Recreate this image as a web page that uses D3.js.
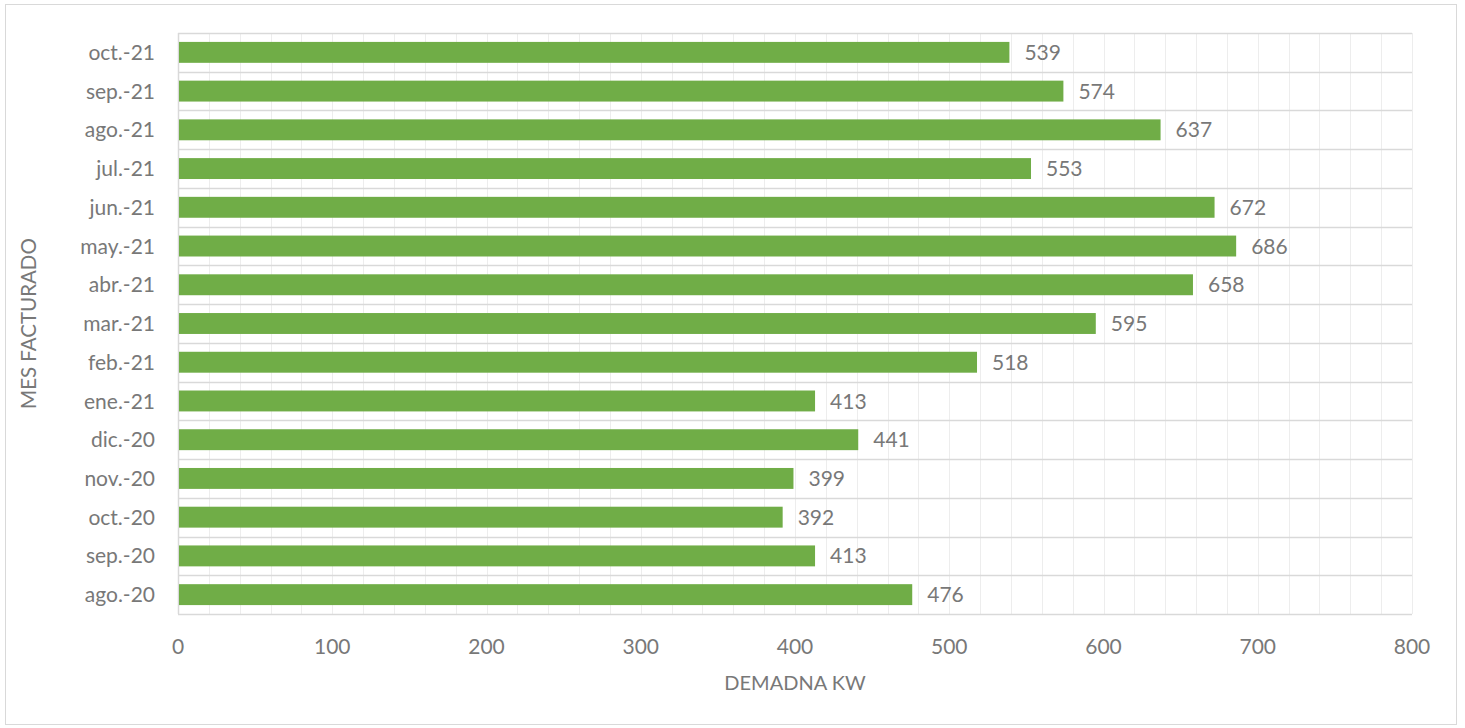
<!DOCTYPE html>
<html>
<head>
<meta charset="utf-8">
<script src="https://cdn.jsdelivr.net/npm/d3@7"></script>
<style>
  body { margin: 0; background: #fff; }
  svg text { font-family: Lato, "Open Sans", sans-serif; fill: #787878; }
</style>
</head>
<body>
<div id="chart"></div>
<script>
// months, bottom to top as in the source chart
const months = ['ago.-20', 'sep.-20', 'oct.-20', 'nov.-20', 'dic.-20', 'ene.-21', 'feb.-21',
                'mar.-21', 'abr.-21', 'may.-21', 'jun.-21', 'jul.-21', 'ago.-21', 'sep.-21', 'oct.-21'];
const demand = [476, 413, 392, 399, 441, 413, 518, 595, 658, 686, 672, 553, 637, 574, 539];
const xTicks = [0, 100, 200, 300, 400, 500, 600, 700, 800];
const xTitle = 'DEMADNA KW';
const yTitle = 'MES FACTURADO';

const width = 1465, height = 728;
const plot = {left: 178, right: 1412, top: 33, bottom: 614};

const svg = d3.select('#chart')
              .append('svg')
              .attr('width', width)
              .attr('height', height);

// chart area border
svg.append('rect')
   .attr('x', 5.5).attr('y', 4.5)
   .attr('width', 1451).attr('height', 720)
   .attr('fill', '#fff')
   .attr('stroke', '#d9d9d9');

const xScale = d3.scaleLinear()
                 .domain([0, 800])
                 .range([plot.left, plot.right]);

const yScale = d3.scaleBand()
                 .domain(months.slice().reverse())
                 .range([plot.top, plot.bottom])
                 .paddingInner(0.46)
                 .paddingOuter(0.23);

// minor vertical gridlines every 20
svg.append('g')
   .selectAll('line')
   .data(d3.range(20, 801, 20))
   .enter()
   .append('line')
   .attr('x1', d => Math.round(xScale(d)) + 0.5)
   .attr('x2', d => Math.round(xScale(d)) + 0.5)
   .attr('y1', plot.top)
   .attr('y2', plot.bottom)
   .attr('stroke', '#ededed');

// horizontal lines between categories
const step = (plot.bottom - plot.top) / months.length;
svg.append('g')
   .selectAll('line')
   .data(d3.range(0, months.length + 1))
   .enter()
   .append('line')
   .attr('x1', plot.left)
   .attr('x2', plot.right)
   .attr('y1', i => Math.round(plot.top + i * step) + 0.5)
   .attr('y2', i => Math.round(plot.top + i * step) + 0.5)
   .attr('stroke', '#d9d9d9')
   .attr('stroke-width', 1.5);

// left axis line
svg.append('line')
   .attr('x1', plot.left + 0.5).attr('x2', plot.left + 0.5)
   .attr('y1', plot.top).attr('y2', plot.bottom)
   .attr('stroke', '#d9d9d9')
   .attr('stroke-width', 1.5);

// bars
svg.append('g')
   .selectAll('rect')
   .data(demand)
   .enter()
   .append('rect')
   .attr('x', xScale(0) + 1)
   .attr('y', (d, i) => yScale(months[i]))
   .attr('width', d => xScale(d) - xScale(0) - 1)
   .attr('height', yScale.bandwidth())
   .attr('fill', '#70ad47');

// value labels
svg.append('g')
   .selectAll('text')
   .data(demand)
   .enter()
   .append('text')
   .attr('x', d => xScale(d) + 15)
   .attr('y', (d, i) => yScale(months[i]) + yScale.bandwidth() / 2)
   .attr('dy', '0.36em')
   .attr('font-size', 21)
   .text(d => d);

// category labels
svg.append('g')
   .selectAll('text')
   .data(months)
   .enter()
   .append('text')
   .attr('x', 155)
   .attr('y', d => yScale(d) + yScale.bandwidth() / 2)
   .attr('dy', '0.36em')
   .attr('text-anchor', 'end')
   .attr('font-size', 21)
   .text(d => d);

// x tick labels
svg.append('g')
   .selectAll('text')
   .data(xTicks)
   .enter()
   .append('text')
   .attr('x', d => xScale(d))
   .attr('y', 646)
   .attr('dy', '0.36em')
   .attr('text-anchor', 'middle')
   .attr('font-size', 21)
   .text(d => d);

// axis titles
svg.append('text')
   .attr('x', (plot.left + plot.right) / 2)
   .attr('y', 683)
   .attr('dy', '0.36em')
   .attr('text-anchor', 'middle')
   .attr('font-size', 20)
   .text(xTitle);

svg.append('text')
   .attr('transform', `translate(29, ${(plot.top + plot.bottom) / 2}) rotate(-90)`)
   .attr('dy', '0.36em')
   .attr('text-anchor', 'middle')
   .attr('font-size', 20.5)
   .text(yTitle);
</script>
</body>
</html>
